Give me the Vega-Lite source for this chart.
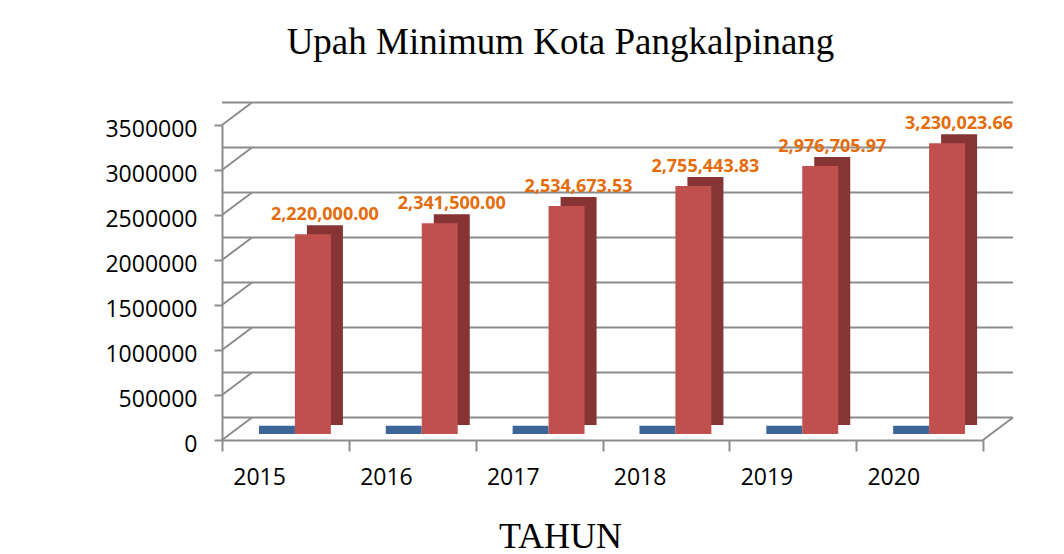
{
  "$schema": "https://vega.github.io/schema/vega-lite/v6.json",
  "width": 761,
  "height": 315,
  "autosize": {"type": "none"},
  "padding": {"left": 222, "top": 125, "right": 81, "bottom": 114},
  "background": "white",
  "config": {"view": {"stroke": null}, "font": "Open Sans"},
  "title": {
    "text": "Upah Minimum Kota Pangkalpinang",
    "font": "Liberation Serif",
    "fontSize": 37,
    "fontWeight": "normal",
    "color": "#000000",
    "anchor": "middle",
    "dx": -42,
    "offset": 11,
    "baseline": "alphabetic"
  },
  "datasets": {
    "umk": [
      {"tahun": "2015", "seri": "Tahun", "nilai": 2015},
      {"tahun": "2016", "seri": "Tahun", "nilai": 2016},
      {"tahun": "2017", "seri": "Tahun", "nilai": 2017},
      {"tahun": "2018", "seri": "Tahun", "nilai": 2018},
      {"tahun": "2019", "seri": "Tahun", "nilai": 2019},
      {"tahun": "2020", "seri": "Tahun", "nilai": 2020},
      {"tahun": "2015", "seri": "UMK", "nilai": 2220000.00},
      {"tahun": "2016", "seri": "UMK", "nilai": 2341500.00},
      {"tahun": "2017", "seri": "UMK", "nilai": 2534673.53},
      {"tahun": "2018", "seri": "UMK", "nilai": 2755443.83},
      {"tahun": "2019", "seri": "UMK", "nilai": 2976705.97},
      {"tahun": "2020", "seri": "UMK", "nilai": 3230023.66}
    ],
    "grid": [
      {"v": 0}, {"v": 500000}, {"v": 1000000}, {"v": 1500000},
      {"v": 2000000}, {"v": 2500000}, {"v": 3000000}, {"v": 3500000}
    ]
  },
  "layer": [
    {
      "data": {"name": "grid"},
      "mark": {"type": "rule", "color": "#8c8c8c", "strokeWidth": 2, "xOffset": 30, "x2Offset": 30, "yOffset": -22.5},
      "encoding": {
        "y": {"field": "v", "type": "quantitative", "scale": {"domain": [0, 3500000]}, "title": null}
      }
    },
    {
      "data": {"name": "grid"},
      "mark": {"type": "rule", "color": "#8c8c8c", "strokeWidth": 2, "x2Offset": 30, "y2Offset": -22.5},
      "encoding": {
        "x": {"datum": "2015", "type": "nominal", "bandPosition": 0},
        "x2": {"datum": "2015", "bandPosition": 0},
        "y": {"field": "v", "type": "quantitative", "title": null},
        "y2": {"field": "v"}
      }
    },
    {
      "data": {"name": "grid"},
      "transform": [{"filter": "datum.v === 0"}],
      "mark": {"type": "rule", "color": "#8c8c8c", "strokeWidth": 2, "x2Offset": 30, "y2Offset": -22.5},
      "encoding": {
        "x": {"datum": "2020", "type": "nominal", "bandPosition": 1},
        "x2": {"datum": "2020", "bandPosition": 1},
        "y": {"field": "v", "type": "quantitative", "title": null},
        "y2": {"field": "v"}
      }
    },
    {
      "data": {"name": "umk"},
      "transform": [{"filter": "datum.seri === 'UMK'"}],
      "mark": {"type": "bar", "color": "#863534", "width": 36, "xOffset": 39.5, "yOffset": -15, "y2Offset": -15},
      "encoding": {
        "x": {"field": "tahun", "type": "nominal", "scale": {"paddingInner": 0, "paddingOuter": 0}},
        "y": {"field": "nilai", "type": "quantitative", "title": null},
        "y2": {"datum": 0}
      }
    },
    {
      "data": {"name": "umk"},
      "transform": [{"filter": "datum.seri === 'Tahun'"}],
      "mark": {"type": "bar", "color": "#3d6598", "yOffset": -14, "y2Offset": -6},
      "encoding": {
        "x": {"field": "tahun", "type": "nominal"},
        "xOffset": {"field": "seri", "type": "nominal", "scale": {"domain": ["Tahun", "UMK"], "paddingInner": 0, "paddingOuter": 0.764, "align": 0.673}},
        "y": {"field": "nilai", "type": "quantitative", "title": null},
        "y2": {"datum": 0}
      }
    },
    {
      "data": {"name": "umk"},
      "transform": [{"filter": "datum.seri === 'UMK'"}],
      "mark": {"type": "bar", "color": "#c0504d", "yOffset": -6, "y2Offset": -6},
      "encoding": {
        "x": {
          "field": "tahun",
          "type": "nominal",
          "title": "TAHUN",
          "axis": {
            "domainColor": "#8c8c8c",
            "domainWidth": 2,
            "tickColor": "#8c8c8c",
            "tickWidth": 2,
            "tickSize": 11,
            "tickBand": "extent",
            "labelFont": "Open Sans",
            "labelFontSize": 23,
            "labelColor": "#000000",
            "labelAngle": 0,
            "labelBaseline": "alphabetic",
            "labelPadding": 33,
            "titleFont": "Liberation Serif",
            "titleFontSize": 36,
            "titleFontWeight": "normal",
            "titleColor": "#000000",
            "titleX": 338,
            "titleY": 107,
            "titleBaseline": "alphabetic",
            "titleAlign": "center",
            "grid": false
          }
        },
        "xOffset": {"field": "seri", "type": "nominal"},
        "y": {
          "field": "nilai",
          "type": "quantitative",
          "title": null,
          "axis": {
            "values": [0, 500000, 1000000, 1500000, 2000000, 2500000, 3000000, 3500000],
            "format": "d",
            "grid": false,
            "domainColor": "#8c8c8c",
            "domainWidth": 2,
            "tickColor": "#8c8c8c",
            "tickWidth": 2,
            "tickSize": 8,
            "labelFont": "Open Sans",
            "labelFontSize": 23,
            "labelColor": "#000000",
            "labelPadding": 17,
            "labelBaseline": "alphabetic",
            "labelOffset": 11
          }
        },
        "y2": {"datum": 0}
      }
    },
    {
      "data": {"name": "umk"},
      "transform": [{"filter": "datum.seri === 'UMK'"}],
      "mark": {"type": "text", "font": "Open Sans", "fontSize": 18, "fontWeight": "bold", "color": "#e46c0a", "baseline": "alphabetic", "align": "center", "dx": 12, "dy": -20},
      "encoding": {
        "x": {"field": "tahun", "type": "nominal"},
        "xOffset": {"field": "seri", "type": "nominal"},
        "y": {"field": "nilai", "type": "quantitative", "title": null},
        "text": {"field": "nilai", "type": "quantitative", "format": ",.2f"}
      }
    }
  ]
}
